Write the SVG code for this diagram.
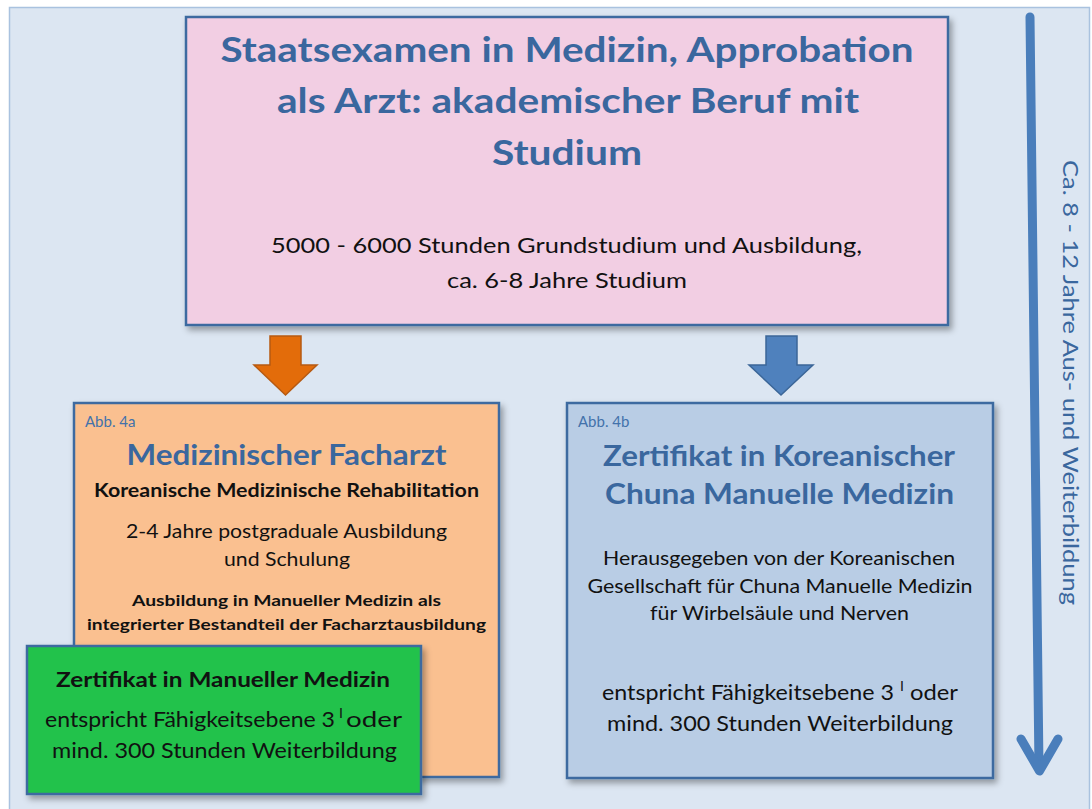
<svg xmlns="http://www.w3.org/2000/svg" width="1092" height="809" viewBox="0 0 1092 809">
<defs>
<style>
.t{font-family:Lato,"Open Sans","Liberation Sans",sans-serif}
.title{font-weight:bold;fill:#3a679e;text-anchor:middle}
.blk{fill:#111;text-anchor:middle}
.b{font-weight:bold}
.abb{fill:#4372ab;font-size:15px}
.box{stroke:#3c6ba0;stroke-width:2.5}
.sup{font-size:14px;fill:#111}
</style>
<filter id="sh" x="-10%" y="-10%" width="130%" height="130%">
<feDropShadow dx="3" dy="4" stdDeviation="3" flood-color="#000" flood-opacity="0.35"/>
</filter>
</defs>
<rect x="0" y="0" width="1092" height="809" fill="#ffffff"/>
<rect id="panel" x="9.5" y="7.5" width="1080" height="810" fill="#dce6f2" stroke="#a9c2df" stroke-width="1.5"/>

<g id="top">
<rect class="box" x="186" y="17" width="762" height="308" fill="#f2cee3" filter="url(#sh)"/>
<text class="t title" x="567" y="62" font-size="34" textLength="693" lengthAdjust="spacingAndGlyphs">Staatsexamen in Medizin, Approbation</text>
<text class="t title" x="568" y="113" font-size="34" textLength="582" lengthAdjust="spacingAndGlyphs">als Arzt: akademischer Beruf mit</text>
<text class="t title" x="567" y="165" font-size="34" textLength="150" lengthAdjust="spacingAndGlyphs">Studium</text>
<text class="t blk" x="566.5" y="253" font-size="22" textLength="591" lengthAdjust="spacingAndGlyphs">5000 - 6000 Stunden Grundstudium und Ausbildung,</text>
<text class="t blk" x="567" y="288" font-size="22" textLength="240" lengthAdjust="spacingAndGlyphs">ca. 6-8 Jahre Studium</text>
</g>

<g id="connectors">
<path d="M270,336 H301 V365 H317 L285.5,395 L254,365 H270 Z" fill="#e36c0a" stroke="#b65a12" stroke-width="1.5" stroke-linejoin="miter"/>
<path d="M766,336 H797 V365 H813 L781,395 L749,365 H766 Z" fill="#4f81bd" stroke="#3b6698" stroke-width="1.5"/>
<g id="timeline" stroke="#4a7ebb" stroke-width="9" stroke-linecap="round" fill="none">
<line x1="1030" y1="17" x2="1039" y2="768"/>
<polyline points="1021,739 1039.5,771 1058,739" stroke-linejoin="round"/>
</g>
<text class="t" transform="translate(1063,382.5) rotate(90)" x="0" y="0" font-size="21" fill="#3a679e" text-anchor="middle" textLength="445" lengthAdjust="spacingAndGlyphs">Ca. 8 - 12 Jahre Aus- und Weiterbildung</text>
</g>

<g id="facharzt">
<rect class="box" x="74" y="403" width="425" height="374" fill="#fac090" filter="url(#sh)"/>
<text class="t abb" x="85" y="427">Abb. 4a</text>
<text class="t title" x="286.5" y="465" font-size="29" textLength="320" lengthAdjust="spacingAndGlyphs">Medizinischer Facharzt</text>
<text class="t blk b" x="286.5" y="497" font-size="18" textLength="385" lengthAdjust="spacingAndGlyphs">Koreanische Medizinische Rehabilitation</text>
<text class="t blk" x="286.5" y="538" font-size="20" textLength="321" lengthAdjust="spacingAndGlyphs">2-4 Jahre postgraduale Ausbildung</text>
<text class="t blk" x="287" y="566" font-size="20" textLength="126" lengthAdjust="spacingAndGlyphs">und Schulung</text>
<text class="t blk b" x="286.5" y="606" font-size="16" textLength="309" lengthAdjust="spacingAndGlyphs">Ausbildung in Manueller Medizin als</text>
<text class="t blk b" x="286.5" y="630" font-size="16" textLength="399" lengthAdjust="spacingAndGlyphs">integrierter Bestandteil der Facharztausbildung</text>
</g>

<g id="zertifikat-mm">
<rect class="box" x="27" y="646" width="394" height="148" fill="#23c24b" filter="url(#sh)"/>
<text class="t blk b" x="223" y="687" font-size="20" textLength="334" lengthAdjust="spacingAndGlyphs">Zertifikat in Manueller Medizin</text>
<text class="t" x="45" y="727" font-size="21" fill="#111" textLength="290" lengthAdjust="spacingAndGlyphs">entspricht Fähigkeitsebene 3</text>
<text class="t sup" x="339" y="718">I</text>
<text class="t" x="346" y="727" font-size="21" fill="#111" textLength="56" lengthAdjust="spacingAndGlyphs">oder</text>
<text class="t blk" x="224.5" y="758" font-size="21" textLength="345" lengthAdjust="spacingAndGlyphs">mind. 300 Stunden Weiterbildung</text>
</g>

<g id="chuna">
<rect class="box" x="567" y="403" width="426" height="375" fill="#b9cde5" filter="url(#sh)"/>
<text class="t abb" x="578" y="427">Abb. 4b</text>
<text class="t title" x="779" y="466" font-size="29" textLength="352" lengthAdjust="spacingAndGlyphs">Zertifikat in Koreanischer</text>
<text class="t title" x="779.5" y="504" font-size="29" textLength="349" lengthAdjust="spacingAndGlyphs">Chuna Manuelle Medizin</text>
<text class="t blk" x="779" y="565" font-size="19" textLength="352" lengthAdjust="spacingAndGlyphs">Herausgegeben von der Koreanischen</text>
<text class="t blk" x="780" y="593" font-size="19" textLength="385" lengthAdjust="spacingAndGlyphs">Gesellschaft für Chuna Manuelle Medizin</text>
<text class="t blk" x="779.5" y="620" font-size="19" textLength="259" lengthAdjust="spacingAndGlyphs">für Wirbelsäule und Nerven</text>
<text class="t" x="602" y="700" font-size="21" fill="#111" textLength="292" lengthAdjust="spacingAndGlyphs">entspricht Fähigkeitsebene 3</text>
<text class="t sup" x="900" y="691">I</text>
<text class="t" x="910" y="700" font-size="21" fill="#111" textLength="48" lengthAdjust="spacingAndGlyphs">oder</text>
<text class="t blk" x="780" y="731" font-size="21" textLength="346" lengthAdjust="spacingAndGlyphs">mind. 300 Stunden Weiterbildung</text>
</g>
</svg>
